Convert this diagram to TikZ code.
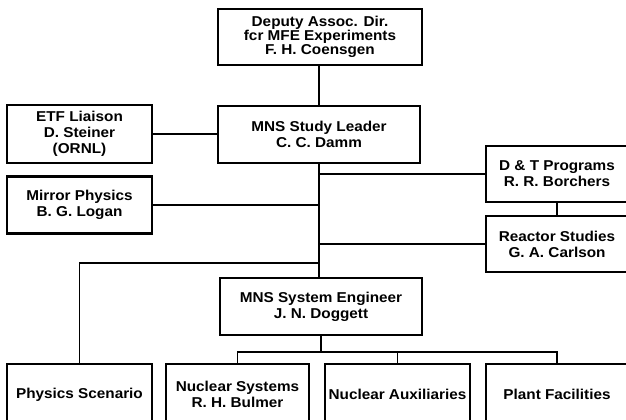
\documentclass[tikz,border=0pt]{standalone}
\usepackage{fontspec}
\newfontfamily\boxfont[FakeStretch=1.07]{Liberation Sans}
\begin{document}
\begin{tikzpicture}[x=1pt,y=-1pt,
  orgbox/.style={draw, line width=2.3pt, align=center, inner sep=0pt,
    font=\boxfont\bfseries\fontsize{14.3}{16}\selectfont},
  link/.style={line width=1.9pt}]
\useasboundingbox (0,0) rectangle (626,420);
\clip (0,0) rectangle (626,420);
\node[orgbox, minimum width=204, minimum height=56,
  font=\boxfont\bfseries\fontsize{14.3}{14.3}\selectfont] (top) at (320,37)
  {Deputy Assoc. Dir.\\fcr MFE Experiments\\F. H. Coensgen};
\node[orgbox, minimum width=202, minimum height=57] (sl) at (319,134.5)
  {MNS Study Leader\\C. C. Damm};
\node[orgbox, minimum width=145, minimum height=58] (etf) at (79.5,134)
  {ETF Liaison\\D. Steiner\\(ORNL)};
\node[orgbox, minimum width=145, minimum height=57] (mp) at (79.5,205)
  {Mirror Physics\\B. G. Logan};
\node[orgbox, minimum width=142, minimum height=56] (dt) at (557,174)
  {D \& T Programs\\R. R. Borchers};
\node[orgbox, minimum width=142, minimum height=56] (rs) at (557,244)
  {Reactor Studies\\G. A. Carlson};
\node[orgbox, minimum width=202, minimum height=57] (se) at (321,306.5)
  {MNS System Engineer\\J. N. Doggett};
\node[orgbox, minimum width=145, minimum height=61] (ps) at (79.5,394.5)
  {Physics Scenario};
\node[orgbox, minimum width=143, minimum height=61] (ns) at (237.5,394.5)
  {Nuclear Systems\\R. H. Bulmer};
\node[orgbox, minimum width=145, minimum height=61] (na) at (397.5,394.5)
  {Nuclear Auxiliaries};
\node[orgbox, minimum width=142, minimum height=61] (pf) at (557,394.5)
  {Plant Facilities};
\coordinate (psj) at (319,263);
\coordinate (bus) at (321,352);
\draw[link] (sl.north) -- (sl.north |- top.south);
\draw[link] (etf.east) -- (etf.east -| sl.west);
\draw[link] (sl.south) -- (sl.south |- se.north);
\draw[link] (dt.west) -- (dt.west -| sl.south);
\draw[link] (mp.east) -- (mp.east -| sl.south);
\draw[link] (rs.west) -- (rs.west -| sl.south);
\draw[link] (dt.south) -- (rs.north);
\draw[link] (ps.north) |- (psj);
\draw[link] (se.south) -- (bus);
\draw[link] (ns.north) |- (bus) -| (pf.north);
\draw[link] (na.north) -- (na.north |- bus);
\end{tikzpicture}
\end{document}
